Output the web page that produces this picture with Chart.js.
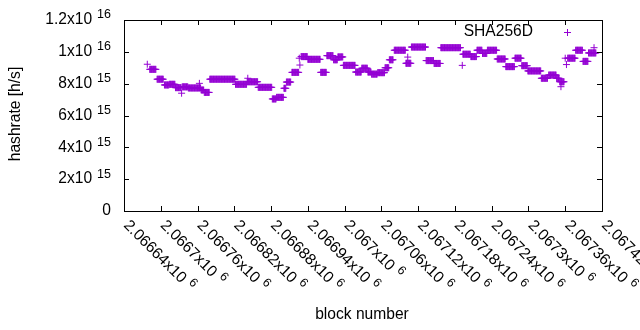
<!DOCTYPE html>
<html>
<head>
<meta charset="utf-8">
<script src="https://cdn.jsdelivr.net/npm/chart.js@4"></script>
<style>
  html, body { margin: 0; padding: 0; background: #fff; }
  canvas { display: block; }
</style>
</head>
<body>
<canvas id="hashChart" width="640" height="330"></canvas>
<script>
// tramos de bloques donde la estimacion queda plana
const runStart = [2066682, 2066694, 2066706, 2066714, 2066724, 2066735, 2066745, 2066766, 2066771, 2066780,
  2066822, 2066841, 2066859, 2066882, 2066889, 2066901, 2066905, 2066914, 2066929, 2066940,
  2066961, 2066971, 2066982, 2066989, 2066998, 2067018, 2067028, 2067038, 2067044, 2067054,
  2067066, 2067073, 2067081, 2067100, 2067109, 2067133, 2067146, 2067157, 2067193, 2067206,
  2067216, 2067225, 2067233, 2067249, 2067263, 2067278, 2067289, 2067299, 2067321, 2067333,
  2067346, 2067351, 2067364, 2067377, 2067389, 2067398];
const runEnd = [2066692, 2066704, 2066713, 2066723, 2066733, 2066744, 2066765, 2066770, 2066779, 2066821,
  2066840, 2066858, 2066881, 2066888, 2066900, 2066904, 2066912, 2066925, 2066939, 2066960,
  2066970, 2066981, 2066988, 2066997, 2067017, 2067027, 2067037, 2067043, 2067053, 2067065,
  2067072, 2067079, 2067099, 2067108, 2067132, 2067145, 2067156, 2067189, 2067205, 2067215,
  2067224, 2067232, 2067248, 2067262, 2067277, 2067288, 2067298, 2067320, 2067331, 2067345,
  2067350, 2067358, 2067376, 2067388, 2067397, 2067410];
const runValue = [8.90e15, 8.28e15, 7.92e15, 7.96e15, 7.75e15, 7.80e15, 7.73e15, 7.60e15, 7.45e15, 8.28e15,
  7.96e15, 8.12e15, 7.77e15, 7.04e15, 7.14e15, 7.71e15, 8.10e15, 8.71e15, 9.70e15, 9.53e15,
  8.71e15, 9.76e15, 9.50e15, 9.68e15, 9.15e15, 8.73e15, 8.97e15, 8.73e15, 8.60e15, 8.69e15,
  9.00e15, 9.50e15, 1.01e16, 9.28e15, 1.03e16, 9.45e15, 9.27e15, 1.026e16, 9.85e15, 9.70e15,
  1.01e16, 9.90e15, 1.01e16, 9.55e15, 9.07e15, 9.60e15, 9.13e15, 8.80e15, 8.34e15, 8.54e15,
  8.34e15, 8.12e15, 9.60e15, 1.01e16, 9.40e15, 9.93e15];

// puntos sueltos
const singleBlock = [2066678, 2066734, 2066763, 2066842, 2066926, 2066927, 2067103, 2067192, 2067353, 2067360, 2067362, 2067407];
const singleValue = [9.22e15, 7.40e15, 8.02e15, 8.34e15, 9.60e15, 9.17e15, 9.67e15, 9.15e15, 7.81e15, 9.60e15, 9.20e15, 1.026e16];

const xTickValues = [2066640, 2066700, 2066760, 2066820, 2066880, 2066940, 2067000, 2067060, 2067120, 2067180, 2067240, 2067300, 2067360, 2067420];
const xTickLabels = ['2.06664', '2.0667', '2.06676', '2.06682', '2.06688', '2.06694', '2.067', '2.06706', '2.06712', '2.06718', '2.06724', '2.0673', '2.06736', '2.06742'];
const xTickExp = '6';
const yTickValues = [0, 2e15, 4e15, 6e15, 8e15, 1e16, 1.2e16];
const yTickLabels = ['0', '2', '4', '6', '8', '1', '1.2'];
const yTickExps = ['', '15', '15', '15', '15', '16', '16'];

const FONT = '"Liberation Sans", Arial, sans-serif';
const TXT = '15.6px ' + FONT;
const SUP = '12.5px ' + FONT;
const morado = '#9400d3';

document.addEventListener('DOMContentLoaded', function() {

    const puntos = [];
    for (let i = 0; i < runStart.length; i++) {
        for (let b = runStart[i]; b <= runEnd[i]; b++) {
            puntos.push({ x: b, y: runValue[i] });
        }
    }
    for (let i = 0; i < singleBlock.length; i++) {
        puntos.push({ x: singleBlock[i], y: singleValue[i] });
    }

    // caja, ticks hacia adentro y etiquetas estilo gnuplot
    const gnuplotBox = {
        id: 'gnuplotBox',
        afterDraw(chart) {
            const ctx = chart.ctx;
            const a = chart.chartArea;
            const xs = chart.scales.x;
            const ys = chart.scales.y;
            ctx.save();
            ctx.strokeStyle = '#000';
            ctx.fillStyle = '#000';
            ctx.lineWidth = 1;
            ctx.strokeRect(a.left + 0.5, a.top + 0.5, a.right - a.left, a.bottom - a.top);

            ctx.beginPath();
            yTickValues.forEach(v => {
                const py = Math.round(ys.getPixelForValue(v)) + 0.5;
                ctx.moveTo(a.left, py); ctx.lineTo(a.left + 5, py);
                ctx.moveTo(a.right, py); ctx.lineTo(a.right - 5, py);
            });
            xTickValues.forEach(v => {
                const px = Math.round(xs.getPixelForValue(v)) + 0.5;
                ctx.moveTo(px, a.bottom); ctx.lineTo(px, a.bottom - 5);
                ctx.moveTo(px, a.top); ctx.lineTo(px, a.top + 5);
            });
            ctx.stroke();

            // etiquetas eje y
            ctx.textBaseline = 'middle';
            ctx.textAlign = 'right';
            yTickValues.forEach((v, i) => {
                const py = ys.getPixelForValue(v);
                const edge = a.left - 13;
                if (yTickExps[i]) {
                    ctx.font = SUP;
                    const ew = ctx.measureText(yTickExps[i]).width;
                    ctx.fillText(yTickExps[i], edge, py - 5);
                    ctx.font = TXT;
                    ctx.fillText(yTickLabels[i] + 'x10', edge - ew - 5, py);
                } else {
                    ctx.font = TXT;
                    ctx.fillText(yTickLabels[i], edge, py);
                }
            });

            // etiquetas eje x rotadas
            ctx.textAlign = 'left';
            xTickValues.forEach((v, i) => {
                const px = xs.getPixelForValue(v);
                ctx.save();
                ctx.translate(px + 2, a.bottom + 12);
                ctx.rotate(Math.PI / 4);
                ctx.font = TXT;
                const base = xTickLabels[i] + 'x10';
                ctx.fillText(base, 0, 0);
                const w = ctx.measureText(base).width;
                ctx.font = SUP;
                ctx.fillText(xTickExp, w + 5, -5);
                ctx.restore();
            });

            // titulos
            ctx.font = TXT;
            ctx.textAlign = 'center';
            ctx.fillText('block number', 362, 315);
            ctx.save();
            ctx.translate(16, 114);
            ctx.rotate(-Math.PI / 2);
            ctx.fillText('hashrate [h/s]', 0, 0);
            ctx.restore();

            // leyenda
            ctx.textAlign = 'right';
            ctx.fillText('SHA256D', 533, 32);
            ctx.strokeStyle = morado;
            ctx.beginPath();
            ctx.moveTo(564, 32.5); ctx.lineTo(571, 32.5);
            ctx.moveTo(567.5, 29); ctx.lineTo(567.5, 36);
            ctx.stroke();
            ctx.restore();
        }
    };

    new Chart(document.getElementById('hashChart'), {
        type: 'scatter',
        data: {
            datasets: [{
                label: 'SHA256D',
                data: puntos,
                pointStyle: 'cross',
                pointRadius: 3.5,
                pointHoverRadius: 3.5,
                borderColor: morado,
                backgroundColor: morado,
                borderWidth: 1
            }]
        },
        options: {
            responsive: false,
            animation: false,
            devicePixelRatio: 1,
            layout: { padding: { top: 20, right: 38, bottom: 0, left: 0 } },
            plugins: {
                legend: { display: false },
                tooltip: { enabled: false }
            },
            scales: {
                x: {
                    type: 'linear',
                    min: xTickValues[0],
                    max: xTickValues[xTickValues.length - 1],
                    afterBuildTicks: s => { s.ticks = xTickValues.map(v => ({ value: v })); },
                    ticks: { display: false },
                    grid: { display: false },
                    border: { display: false },
                    afterFit: s => { s.height = 119; }
                },
                y: {
                    min: 0,
                    max: 1.2e16,
                    afterBuildTicks: s => { s.ticks = yTickValues.map(v => ({ value: v })); },
                    ticks: { display: false },
                    grid: { display: false },
                    border: { display: false },
                    afterFit: s => { s.width = 124; }
                }
            }
        },
        plugins: [gnuplotBox]
    });

});
</script>
</body>
</html>
